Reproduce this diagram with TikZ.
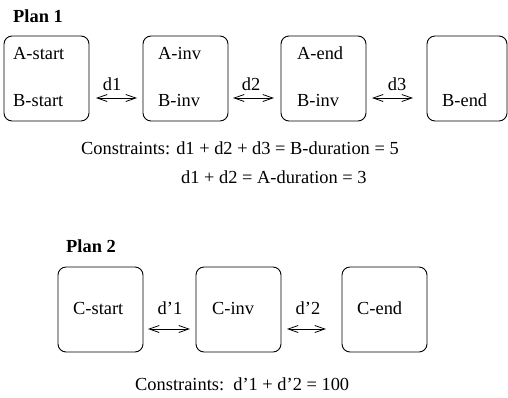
\documentclass[tikz,border=0pt]{standalone}
\usepackage{fontspec}
\setmainfont{Liberation Serif}
\usetikzlibrary{arrows.meta}
\tikzset{
  stepbox/.style={draw, line width=0.9pt, rounded corners=8pt, inner sep=0pt, minimum height=85pt},
  lbl/.style={inner sep=0pt, font=\fontsize{18.4pt}{20pt}\selectfont, text height=12pt, text depth=0pt, anchor=west},
  clbl/.style={lbl, anchor=center},
  ttl/.style={lbl, font=\fontsize{18.4pt}{20pt}\selectfont\bfseries},
  dur/.style={line width=0.8pt, {Straight Barb[length=10pt,width=7pt]}-{Straight Barb[length=10pt,width=7pt]}}
}
\begin{document}
\begin{tikzpicture}[x=1pt,y=-1pt]
\useasboundingbox (0,0) rectangle (508,397);
% Plan 1
\node[ttl] (p1) at (13,16) {Plan 1};
\node[stepbox, minimum width=85pt] (b1) at (46.5,78.5) {};
\node[stepbox, minimum width=85pt] (b2) at (185.5,78.5) {};
\node[stepbox, minimum width=85pt] (b3) at (323.5,78.5) {};
\node[stepbox, minimum width=80pt] (b4) at (467,78.5) {};
\node[lbl] (t1a) at (13,53) {A-start};
\node[lbl] (t1b) at (13,100) {B-start};
\node[lbl] (t2a) at (158,53) {A-inv};
\node[lbl] (t2b) at (158,100) {B-inv};
\node[lbl] (t3a) at (297,53) {A-end};
\node[lbl] (t3b) at (297,100) {B-inv};
\node[lbl] (t4b) at (442,100) {B-end};
\coordinate (a1s) at (96,98); \coordinate (a1e) at (137,98);
\coordinate (a2s) at (233,98); \coordinate (a2e) at (274,98);
\coordinate (a3s) at (372,98); \coordinate (a3e) at (413,98);
\draw[dur] (a1s) -- (a1e);
\draw[dur] (a2s) -- (a2e);
\draw[dur] (a3s) -- (a3e);
\node[clbl] (d1) at (112,84) {d1};
\node[clbl] (d2) at (251,84) {d2};
\node[clbl] (d3) at (397,84) {d3};
\node[lbl] (c1) at (81,148) {Constraints: d1 + d2 + d3 = B-duration = 5};
\node[lbl] (c2) at (181,177) {d1 + d2 = A-duration = 3};
% Plan 2
\node[ttl] (p2) at (66,246) {Plan 2};
\node[stepbox, minimum width=85pt] (e1) at (100.5,309.5) {};
\node[stepbox, minimum width=85pt] (e2) at (238.5,309.5) {};
\node[stepbox, minimum width=85pt] (e3) at (384.5,309.5) {};
\node[lbl] (s1) at (73,308) {C-start};
\node[lbl] (s2) at (212,308) {C-inv};
\node[lbl] (s3) at (357,308) {C-end};
\coordinate (f1s) at (148,329); \coordinate (f1e) at (190,329);
\coordinate (f2s) at (287,329); \coordinate (f2e) at (326,329);
\draw[dur] (f1s) -- (f1e);
\draw[dur] (f2s) -- (f2e);
\node[clbl] (g1) at (170,308) {d’1};
\node[clbl] (g2) at (308,308) {d’2};
\node[lbl] (c3) at (135,384) {Constraints:\ \ d’1 + d’2 = 100};
\end{tikzpicture}
\end{document}
